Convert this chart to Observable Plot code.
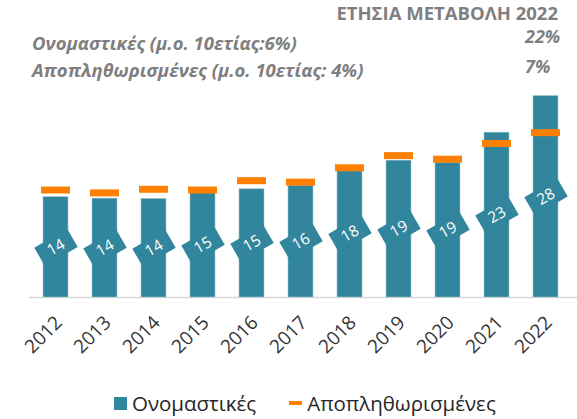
<!DOCTYPE html>
<html>
<head>
<meta charset="utf-8">
<script src="https://cdn.jsdelivr.net/npm/d3@7"></script>
<script src="https://cdn.jsdelivr.net/npm/@observablehq/plot@0.6"></script>
<style>
  html, body { margin: 0; padding: 0; background: #fff; }
  #wrap { position: relative; width: 577px; height: 419px; font-family: "Open Sans", sans-serif; overflow: hidden; }
  #chart { position: absolute; left: 0; top: 0; }
  .hd { position: absolute; color: #7f7f7f; font-weight: bold; white-space: nowrap; line-height: 1; }
  .it { font-style: italic; }
  #legend { position: absolute; left: 114px; top: 391px; display: flex; justify-content: flex-start; align-items: center; font-size: 20.5px; color: #262626; line-height: 1.2; white-space: nowrap; }
  .sw { display: inline-block; }
</style>
</head>
<body>
<div id="wrap">
  <div id="chart"></div>
  <div class="hd" id="t1" style="right:19px; top:4px; font-size:18.5px;">ΕΤΗΣΙΑ ΜΕΤΑΒΟΛΗ 2022</div>
  <div class="hd it" id="t2" style="left:32px; top:34px; font-size:18.5px;">Ονομαστικές (μ.ο. 10ετίας:6%)</div>
  <div class="hd it" id="t3" style="left:32px; top:61px; font-size:18.5px;">Αποπληθωρισμένες (μ.ο. 10ετίας: 4%)</div>
  <div class="hd it" id="t4" style="left:525px; top:27px; font-size:18px;">22%</div>
  <div class="hd it" id="t5" style="left:525px; top:57px; font-size:18px;">7%</div>
  <div id="legend">
    <span class="sw" style="width:13px;height:13px;background:#31859c;margin-right:5px;"></span>
    <span>Ονομαστικές</span>
    <span class="sw" style="width:13px;height:4px;background:#ff8000;margin-left:33px;margin-right:5px;"></span>
    <span>Αποπληθωρισμένες</span>
  </div>
</div>
<script>
const years = ["2012","2013","2014","2015","2016","2017","2018","2019","2020","2021","2022"];
const nominal = [14.0, 13.8, 13.75, 14.6, 15.1, 15.6, 17.8, 19.1, 18.8, 23.0, 28.1];
const deflated = [15.0, 14.6, 15.1, 15.0, 16.3, 16.1, 18.1, 19.8, 19.3, 21.5, 23.0];

const teal = "#31859c";
const orange = "#ff8000";

const data = years.map((y, i) => ({year: y, nominal: nominal[i], deflated: deflated[i]}));

const rectSymbol = {
  draw(ctx) {
    const w = 19, h = 10.5;
    ctx.moveTo(-w, -h); ctx.lineTo(w, -h); ctx.lineTo(w, h); ctx.lineTo(-w, h); ctx.closePath();
  }
};

const chart = Plot.plot({
  width: 577,
  height: 380,
  marginTop: 82,
  marginBottom: 83,
  marginLeft: 32,
  marginRight: 8,
  style: {fontFamily: "Open Sans, sans-serif", background: "transparent"},
  x: {domain: years, paddingInner: 0.5, paddingOuter: 0.2, label: null},
  y: {domain: [0, 30], axis: null},
  marks: [
    Plot.ruleY([0], {stroke: "#d9d9d9", strokeWidth: 1.5, insetLeft: -3, insetRight: -8}),
    Plot.barY(data, {x: "year", y: "nominal", fill: teal, stroke: "#9fc3cf", strokeWidth: 0.6}),
    Plot.dot(data, {x: "year", y: d => d.nominal / 2, symbol: rectSymbol, fill: teal, stroke: "none", rotate: -30}),
    Plot.text(data, {x: "year", y: d => d.nominal / 2, text: d => d3.format(".0f")(d.nominal), fill: "white", fontSize: 15.5, rotate: -30}),
    Plot.tickY(data, {x: "year", y: "deflated", stroke: orange, strokeWidth: 7, insetLeft: -2, insetRight: -2}),
    Plot.axisX({tickSize: 0, tickPadding: 22, tickRotate: -45, fontSize: 19, fill: "#333", label: null, dx: 3})
  ]
});
document.getElementById("chart").appendChild(chart);
</script>
</body>
</html>
